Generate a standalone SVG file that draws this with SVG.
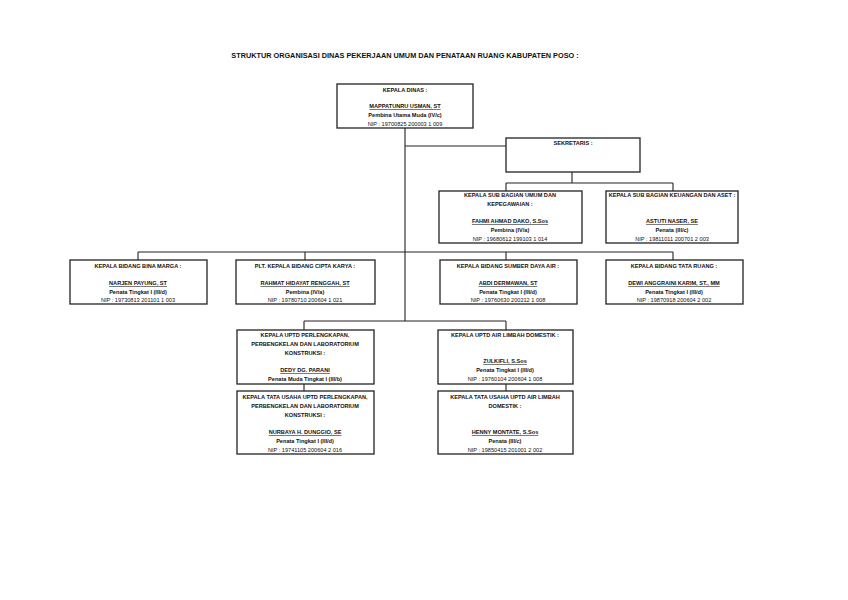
<svg xmlns="http://www.w3.org/2000/svg" width="848" height="600" viewBox="0 0 848 600">
<style>
text{font-family:"Liberation Sans",Arial,sans-serif;font-size:5.6px;fill:#111;text-anchor:middle}
.t{font-size:7.3px;font-weight:bold}
.h{font-weight:bold}
.n{font-weight:bold;text-decoration:underline}
.r{font-weight:bold}
.box{fill:#fff;stroke:#222;stroke-width:1.3}
.ln{fill:none;stroke:#222;stroke-width:1.1}
</style>
<rect width="848" height="600" fill="#fff"/>
<text class="t" x="405" y="57.5">STRUKTUR ORGANISASI DINAS PEKERJAAN UMUM DAN PENATAAN RUANG KABUPATEN POSO :</text>
<g id="connectors">
<path class="ln" d="M405 128V321M405 146H506M572 172V183M506 183H673M506 183V191M673 183V191M138 252H673M138 252V260M305 252V260M506 252V260M673 252V260M304 321H506M304 321V330M506 321V330M304 384V391M506 384V391"/>
</g>
<g id="kepala-dinas">
<rect class="box" x="337" y="84" width="136" height="44"/>
<text class="h" x="405" y="92">KEPALA DINAS :</text>
<text class="n" x="405" y="108">MAPPATUNRU USMAN, ST</text>
<text class="r" x="405" y="117">Pembina Utama Muda (IV/c)</text>
<text x="405" y="126">NIP : 19700825 200003 1 009</text>
</g>
<g id="sekretaris">
<rect class="box" x="506" y="138" width="134" height="34"/>
<text class="h" x="573" y="145">SEKRETARIS :</text>
</g>
<g id="subbag-umum">
<rect class="box" x="439" y="191" width="143" height="52"/>
<text class="h" x="510" y="197">KEPALA SUB BAGIAN UMUM DAN</text>
<text class="h" x="510" y="206">KEPEGAWAIAN :</text>
<text class="n" x="510" y="223">FAHMI AHMAD DAKO, S.Sos</text>
<text class="r" x="510" y="232">Pembina (IV/a)</text>
<text x="510" y="241">NIP : 19680612 199103 1 014</text>
</g>
<g id="subbag-keuangan">
<rect class="box" x="606" y="191" width="132" height="52"/>
<text class="h" x="672" y="197">KEPALA SUB BAGIAN KEUANGAN DAN ASET :</text>
<text class="n" x="672" y="223">ASTUTI NASER, SE</text>
<text class="r" x="672" y="232">Penata (III/c)</text>
<text x="672" y="241">NIP : 19811011 200701 2 003</text>
</g>
<g id="bidang-bina-marga">
<rect class="box" x="70" y="260" width="137" height="44"/>
<text class="h" x="138" y="268">KEPALA BIDANG BINA MARGA :</text>
<text class="n" x="138" y="285">NARJEN PAYUNG, ST</text>
<text class="r" x="138" y="294">Penata Tingkat I (III/d)</text>
<text x="138" y="302">NIP : 19730813 201101 1 003</text>
</g>
<g id="bidang-cipta-karya">
<rect class="box" x="236" y="260" width="139" height="44"/>
<text class="h" x="305" y="268">PLT. KEPALA BIDANG CIPTA KARYA :</text>
<text class="n" x="305" y="285">RAHMAT HIDAYAT RENGGAH, ST</text>
<text class="r" x="305" y="294">Pembina (IV/a)</text>
<text x="305" y="302">NIP : 19780710 200604 1 021</text>
</g>
<g id="bidang-sda">
<rect class="box" x="440" y="260" width="137" height="44"/>
<text class="h" x="508" y="268">KEPALA BIDANG SUMBER DAYA AIR :</text>
<text class="n" x="508" y="285">ABDI DERMAWAN, ST</text>
<text class="r" x="508" y="294">Penata Tingkat I (III/d)</text>
<text x="508" y="302">NIP : 19760630 200212 1 008</text>
</g>
<g id="bidang-tata-ruang">
<rect class="box" x="606" y="260" width="137" height="44"/>
<text class="h" x="674" y="268">KEPALA BIDANG TATA RUANG :</text>
<text class="n" x="674" y="285">DEWI ANGGRAINI KARIM, ST., MM</text>
<text class="r" x="674" y="294">Penata Tingkat I (III/d)</text>
<text x="674" y="302">NIP : 19870918 200604 2 002</text>
</g>
<g id="uptd-perlengkapan">
<rect class="box" x="237" y="330" width="137" height="54"/>
<text class="h" x="305" y="337">KEPALA UPTD PERLENGKAPAN,</text>
<text class="h" x="305" y="346">PERBENGKELAN DAN LABORATORIUM</text>
<text class="h" x="305" y="355">KONSTRUKSI :</text>
<text class="n" x="305" y="372">DEDY DG. PARANI</text>
<text class="r" x="305" y="381">Penata Muda Tingkat I (III/b)</text>
</g>
<g id="uptd-air-limbah">
<rect class="box" x="438" y="330" width="135" height="54"/>
<text class="h" x="505" y="337">KEPALA UPTD AIR LIMBAH DOMESTIK :</text>
<text class="n" x="505" y="363">ZULKIFLI, S.Sos</text>
<text class="r" x="505" y="372">Penata Tingkat I (III/d)</text>
<text x="505" y="381">NIP : 19760104 200604 1 008</text>
</g>
<g id="tu-uptd-perlengkapan">
<rect class="box" x="237" y="391" width="137" height="63"/>
<text class="h" x="305" y="399">KEPALA TATA USAHA UPTD PERLENGKAPAN,</text>
<text class="h" x="305" y="408">PERBENGKELAN DAN LABORATORIUM</text>
<text class="h" x="305" y="417">KONSTRUKSI :</text>
<text class="n" x="305" y="434">NURBAYA H. DUNGGIO, SE</text>
<text class="r" x="305" y="443">Penata Tingkat I (III/d)</text>
<text x="305" y="452">NIP : 19741105 200604 2 016</text>
</g>
<g id="tu-uptd-air-limbah">
<rect class="box" x="438" y="391" width="135" height="63"/>
<text class="h" x="505" y="399">KEPALA TATA USAHA UPTD AIR LIMBAH</text>
<text class="h" x="505" y="408">DOMESTIK :</text>
<text class="n" x="505" y="434">HENNY MONTATE, S.Sos</text>
<text class="r" x="505" y="443">Penata (III/c)</text>
<text x="505" y="452">NIP : 19850415 201001 2 002</text>
</g>
</svg>
